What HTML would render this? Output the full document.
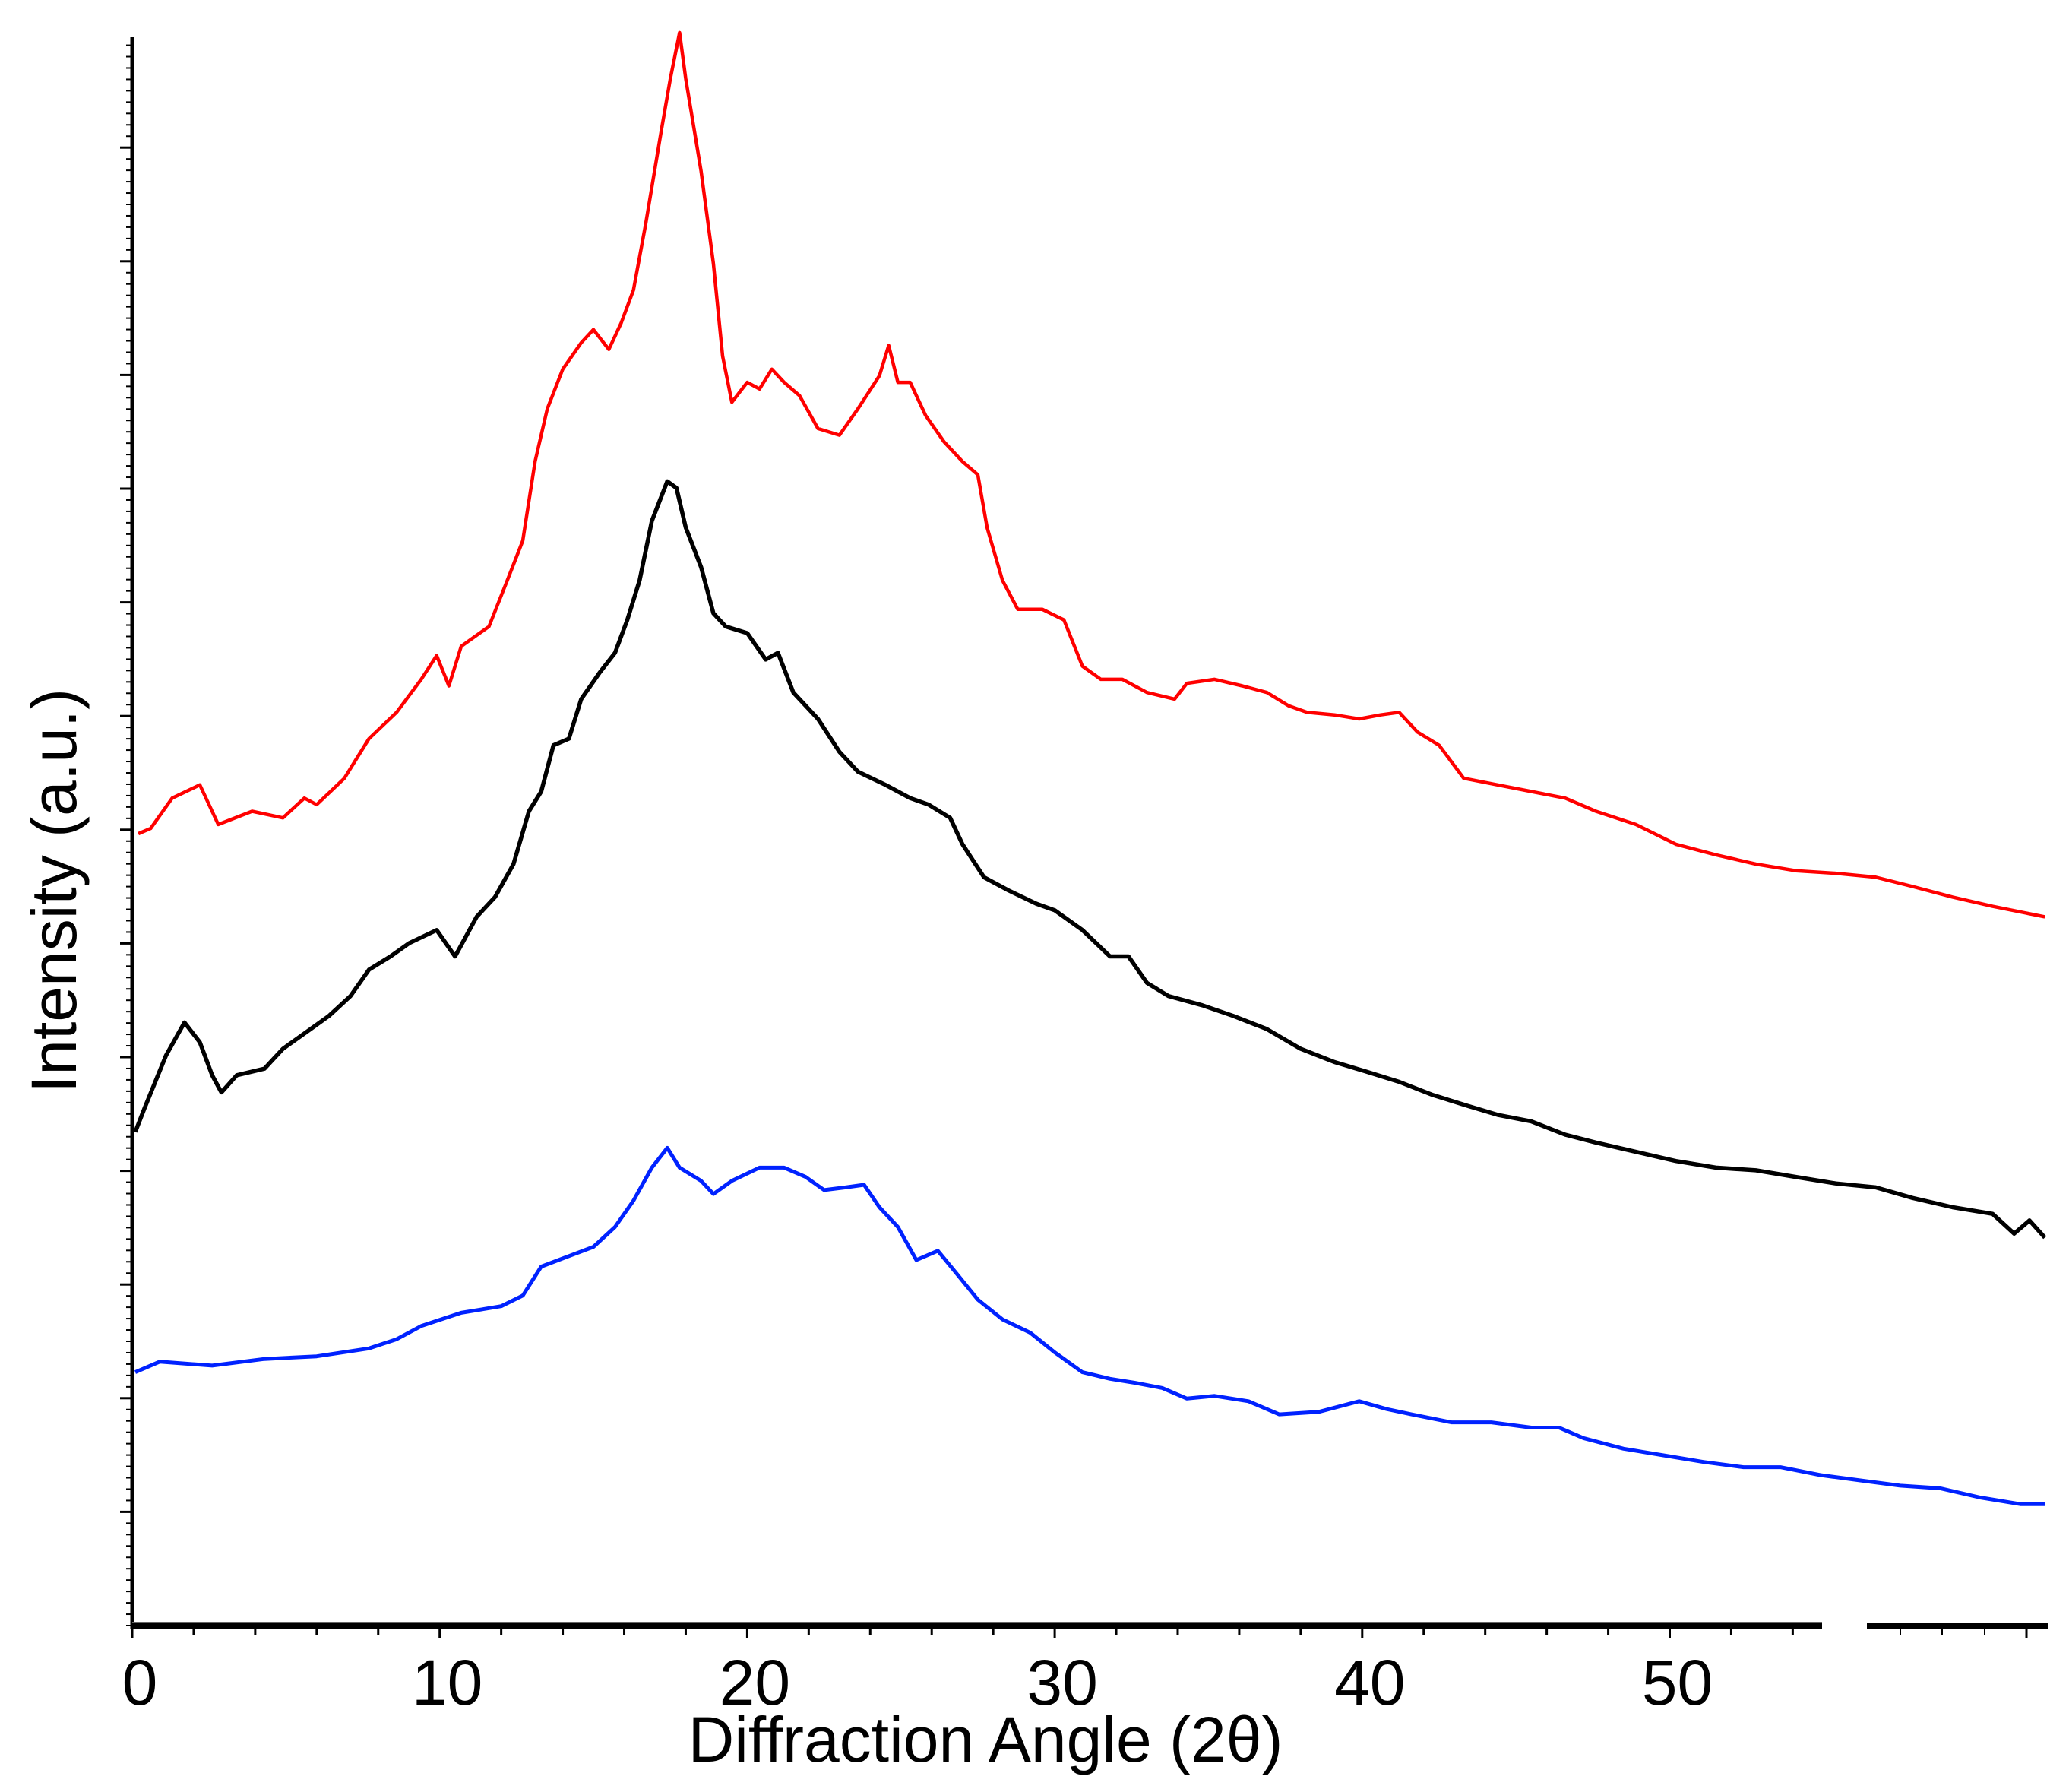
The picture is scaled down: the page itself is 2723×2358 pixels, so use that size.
<!DOCTYPE html>
<html><head><meta charset="utf-8"><style>
html,body{margin:0;padding:0;background:#fff}
svg{display:block;font-family:"Liberation Sans",Arial,sans-serif}
</style></head><body>
<svg id="chart" width="2723" height="2358" viewBox="0 0 2723 2358" xmlns="http://www.w3.org/2000/svg">
<g id="axes"></g>
<g id="series"></g>
<text x="1297" y="2318" font-size="84" text-anchor="middle">Diffraction Angle (2θ)</text>
<text transform="translate(100,1172) rotate(-90)" font-size="84" text-anchor="middle">Intensity (a.u.)</text>
</svg>
<script>
const xTickLabels=[0,10,20,30,40,50];
const redAngle=[0.2,0.6,1.3,2.2,2.8,3.9,4.9,5.6,6.0,6.9,7.7,8.6,9.4,9.9,10.3,10.7,11.6,12.2,12.7,13.1,13.5,14.0,14.6,15.0,15.5,15.9,16.3,16.7,17.2,17.5,17.8,18.0,18.5,18.9,19.2,19.5,20.0,20.4,20.8,21.2,21.7,22.3,23.0,23.6,24.3,24.6,24.9,25.3,25.8,26.4,27.0,27.5,27.8,28.3,28.8,29.6,30.3,30.9,31.5,32.2,33.0,33.9,34.3,35.2,36.1,36.9,37.6,38.2,39.1,39.9,40.6,41.2,41.8,42.5,43.3,44.4,45.5,46.6,47.6,48.9,50.2,51.5,52.8,54.1,55.4,56.7,57.9,59.2,60.5,62.2];
const redValue=[600,604,627,637,607,617,612,627,622,642,672,692,717,735,712,742,757,792,822,882,922,952,972,982,967,987,1012,1062,1132,1172,1207,1172,1102,1032,962,927,942,937,952,942,932,907,902,922,947,970,942,942,917,897,882,872,832,792,770,770,762,727,717,717,707,702,714,717,712,707,697,692,690,687,690,692,677,667,642,637,632,627,617,607,592,584,577,572,570,567,560,552,545,537];
const blackAngle=[0.1,0.4,1.1,1.7,2.2,2.6,2.9,3.4,4.3,4.9,5.8,6.4,7.1,7.7,8.4,9.0,9.9,10.5,11.2,11.8,12.4,12.9,13.3,13.7,14.2,14.6,15.2,15.7,16.1,16.5,16.9,17.4,17.7,18.0,18.5,18.9,19.3,20.0,20.6,21.0,21.5,22.3,23.0,23.6,24.5,25.3,25.9,26.6,27.0,27.7,28.5,29.4,30.0,30.9,31.8,32.4,33.0,33.7,34.8,35.8,36.9,38.0,39.1,40.1,41.2,42.3,43.4,44.4,45.5,46.6,47.6,48.9,50.2,51.5,52.8,54.1,55.4,56.7,57.9,59.2,60.5,61.2,61.7,62.2];
const blackValue=[374,392,432,457,442,417,404,417,422,437,452,462,477,497,507,517,527,507,537,552,577,617,632,667,672,702,722,737,762,792,837,867,862,832,802,767,757,752,732,737,707,687,662,647,637,627,622,612,592,567,557,547,542,527,507,507,487,477,470,462,452,437,427,420,412,402,394,387,382,372,366,359,352,347,345,340,335,332,324,317,312,297,307,294];
const blueAngle=[0.1,0.9,2.6,4.3,6.0,7.7,8.6,9.4,10.7,12.0,12.7,13.3,14.2,15.0,15.7,16.3,16.9,17.4,17.8,18.5,18.9,19.5,20.4,21.2,21.9,22.5,23.2,23.8,24.3,24.9,25.5,26.2,26.8,27.5,28.3,29.2,30.0,30.9,31.8,32.6,33.5,34.3,35.2,36.3,37.3,38.6,39.9,40.8,41.6,42.9,44.2,45.5,46.4,47.2,48.5,49.8,51.1,52.4,53.6,54.9,56.2,57.5,58.8,60.1,61.4,62.2];
const blueValue=[192,200,197,202,204,210,217,227,237,242,250,272,280,287,302,322,347,362,347,337,327,337,347,347,340,330,332,334,317,302,277,284,267,247,232,222,207,192,187,184,180,172,174,170,160,162,170,164,160,154,154,150,150,142,134,129,124,120,120,114,110,106,104,97,92,92];

const NS='http://www.w3.org/2000/svg';
const X0=174,XU=40.47,Y0=2139,YU=1.7366;
function xs(d){return X0+d*XU;}
function ys(v){return Y0-v*YU;}
function mk(tag,attrs,parent){const e=document.createElementNS(NS,tag);for(const k in attrs)e.setAttribute(k,attrs[k]);parent.appendChild(e);return e;}
const axes=document.getElementById('axes');
const series=document.getElementById('series');

let ya=mk('line',{x1:174,y1:49,x2:174,y2:2143,stroke:'#000','stroke-width':5},axes);


for(let k=0;k<=140;k++){
  const y=2139-k*14.96;if(y<52)break;
  const major=k%10===0&&k>0;
  const t=mk('line',{x1:major?158:166,y1:y,x2:172,y2:y,stroke:'#000','stroke-width':major?3:2},axes);
  
  
}
let xg=mk('rect',{x:174,y:2134,width:2224,height:3,fill:'#666'},axes);


let xa1=mk('rect',{x:174,y:2136,width:2224,height:8,fill:'#000'},axes);


let xa2=mk('rect',{x:2457,y:2136,width:238,height:8,fill:'#000'},axes);


for(let d=0;d<=54;d+=2){
  const major=d%10===0;
  const t=mk('line',{x1:xs(d),y1:2143,x2:xs(d),y2:major?2156:2152,stroke:'#000','stroke-width':3},axes);
  
  
}
[2501,2556,2612].forEach(x=>{const t=mk('line',{x1:x,y1:2143,x2:x,y2:2151,stroke:'#000','stroke-width':2},axes);
  
  });
let tb=mk('line',{x1:2667,y1:2143,x2:2667,y2:2156,stroke:'#000','stroke-width':3},axes);


xTickLabels.forEach(v=>{
  const t=mk('text',{x:xs(v)+10,y:2243,'font-size':84,'text-anchor':'middle'},axes);
  t.textContent=v;
  
  
});
function drawLine(ax,vals,color,w,name){
  const d=ax.map((a,i)=>(i?'L':'M')+xs(a).toFixed(1)+','+ys(vals[i]).toFixed(1)).join(' ');
  const p=mk('path',{d:d,fill:'none',stroke:color,'stroke-width':w,'stroke-linejoin':'round'},series);
  
  
}
drawLine(redAngle,redValue,'#ff0000',4.5,'red-pattern-line');
drawLine(blackAngle,blackValue,'#000000',5.5,'black-pattern-line');
drawLine(blueAngle,blueValue,'#0022ff',5,'blue-pattern-line');
</script>
</body></html>
